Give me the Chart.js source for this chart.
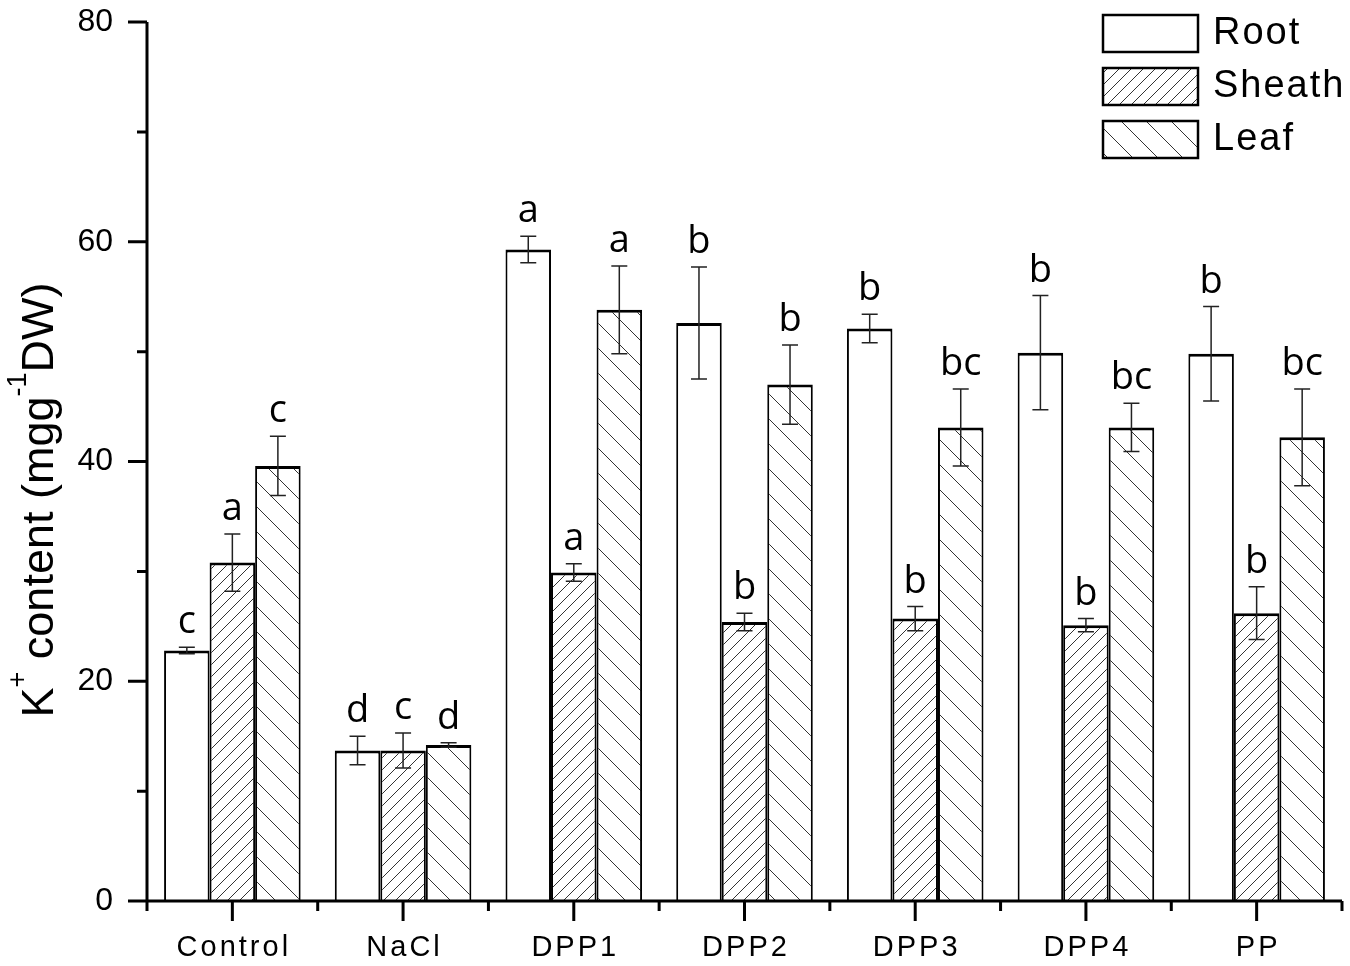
<!DOCTYPE html>
<html>
<head>
<meta charset="utf-8">
<script src="https://cdn.jsdelivr.net/npm/chart.js@4/dist/chart.umd.min.js"></script>
<style>
  body { margin: 0; background: #fff; }
  canvas { display: block; }
</style>
</head>
<body>
<canvas id="canvas" width="1350" height="966"></canvas>
<script>
const categories = ["Control", "NaCl", "DPP1", "DPP2", "DPP3", "DPP4", "PP"];
const yTickValues = [0, 20, 40, 60, 80];
const yMinorValues = [10, 30, 50, 70];

const rootValues = [22.8, 13.7, 59.3, 52.6, 52.1, 49.9, 49.8];
const rootErrors = [0.3, 1.3, 1.2, 5.1, 1.3, 5.2, 4.3];
const rootLetters = ["c", "d", "a", "b", "b", "b", "b"];

const sheathValues = [30.8, 13.7, 29.9, 25.4, 25.7, 25.1, 26.2];
const sheathErrors = [2.6, 1.6, 0.8, 0.8, 1.1, 0.6, 2.4];
const sheathLetters = ["a", "c", "a", "b", "b", "b", "b"];

const leafValues = [39.6, 14.2, 53.8, 47.0, 43.1, 43.1, 42.2];
const leafErrors = [2.7, 0.2, 4.0, 3.6, 3.5, 2.2, 4.4];
const leafLetters = ["c", "d", "a", "b", "bc", "bc", "bc"];

const ctx = document.getElementById("canvas").getContext("2d");

// diagonal hatch tiles
function hatch(size, forward) {
  const c = document.createElement("canvas");
  c.width = size;
  c.height = size;
  const g = c.getContext("2d");
  g.fillStyle = "#fff";
  g.fillRect(0, 0, size, size);
  g.strokeStyle = "#333";
  g.lineWidth = 1;
  g.beginPath();
  if (forward) {
    g.moveTo(-2, size + 2); g.lineTo(size + 2, -2);
    g.moveTo(-2, 2); g.lineTo(2, -2);
    g.moveTo(size - 2, size + 2); g.lineTo(size + 2, size - 2);
  } else {
    g.moveTo(-2, -2); g.lineTo(size + 2, size + 2);
    g.moveTo(size - 2, -2); g.lineTo(size + 2, 2);
    g.moveTo(-2, size - 2); g.lineTo(2, size + 2);
  }
  g.stroke();
  return ctx.createPattern(c, "repeat");
}

const sheathPattern = hatch(12, true);
const leafPattern = hatch(25, false);

const border = { top: 3, left: 2, right: 2, bottom: 0 };

const decorations = {
  id: "decorations",
  afterDatasetsDraw(chart) {
    const { ctx, scales: { y } } = chart;
    ctx.save();
    chart.data.datasets.forEach((ds, di) => {
      const meta = chart.getDatasetMeta(di);
      meta.data.forEach((bar, i) => {
        const v = ds.data[i];
        const e = ds.errors[i];
        const top = y.getPixelForValue(v + e);
        const bot = y.getPixelForValue(v - e);
        ctx.strokeStyle = "#222";
        ctx.lineWidth = 1.5;
        ctx.beginPath();
        ctx.moveTo(bar.x, top); ctx.lineTo(bar.x, bot);
        ctx.moveTo(bar.x - 8, top); ctx.lineTo(bar.x + 8, top);
        ctx.moveTo(bar.x - 8, bot); ctx.lineTo(bar.x + 8, bot);
        ctx.stroke();
        ctx.fillStyle = "#000";
        ctx.font = "38px 'Open Sans', 'Noto Sans', sans-serif";
        ctx.textAlign = "center";
        ctx.textBaseline = "alphabetic";
        ctx.fillText(ds.letters[i], bar.x, top - 14);
      });
    });
    ctx.restore();
  },
  afterDraw(chart) {
    const { ctx, chartArea: a, scales: { x, y } } = chart;
    ctx.save();
    ctx.strokeStyle = "#000";
    ctx.lineWidth = 3;
    ctx.beginPath();
    // axes
    ctx.moveTo(a.left, a.top); ctx.lineTo(a.left, a.bottom + 1.5);
    ctx.moveTo(a.left - 1.5, a.bottom); ctx.lineTo(a.right, a.bottom);
    // y ticks
    yTickValues.forEach(v => {
      const py = y.getPixelForValue(v);
      ctx.moveTo(a.left - 19, py); ctx.lineTo(a.left, py);
    });
    yMinorValues.forEach(v => {
      const py = y.getPixelForValue(v);
      ctx.moveTo(a.left - 10, py); ctx.lineTo(a.left, py);
    });
    // x ticks
    const n = categories.length;
    for (let i = 0; i < n; i++) {
      const px = x.getPixelForTick(i);
      ctx.moveTo(px, a.bottom); ctx.lineTo(px, a.bottom + 20);
    }
    for (let i = 0; i <= n; i++) {
      let px;
      if (i === 0) px = a.left;
      else if (i === n) px = a.right;
      else px = (x.getPixelForTick(i - 1) + x.getPixelForTick(i)) / 2;
      ctx.moveTo(px, a.bottom); ctx.lineTo(px, a.bottom + 10);
    }
    ctx.stroke();

    // x labels
    ctx.fillStyle = "#000";
    ctx.font = "29px 'Liberation Sans'";
    ctx.letterSpacing = "3px";
    ctx.textAlign = "left";
    ctx.textBaseline = "alphabetic";
    categories.forEach((c, i) => {
      const w = ctx.measureText(c).width - 3;
      ctx.fillText(c, x.getPixelForTick(i) - w / 2, a.bottom + 55);
    });

    // legend
    ctx.font = "38px 'Liberation Sans'";
    ctx.letterSpacing = "2px";
    ctx.textBaseline = "middle";
    chart.data.datasets.forEach((ds, i) => {
      const bx = 1103, by = 15 + i * 53;
      ctx.fillStyle = ds.backgroundColor;
      ctx.fillRect(bx, by, 95, 37);
      ctx.lineWidth = 2.5;
      ctx.strokeStyle = "#000";
      ctx.strokeRect(bx, by, 95, 37);
      ctx.fillStyle = "#000";
      ctx.fillText(ds.label, 1213, by + 19);
    });

    // y title with superscripts
    ctx.letterSpacing = "0px";
    const parts = [
      ["K", 45, 0], ["+", 27, -27], [" content (mgg", 45, 0], ["-1", 27, -27], ["DW)", 45, 0]
    ];
    let total = 0;
    parts.forEach(p => {
      ctx.font = p[1] + "px 'Liberation Sans'";
      total += ctx.measureText(p[0]).width;
    });
    ctx.translate(53, 500);
    ctx.rotate(-Math.PI / 2);
    ctx.textBaseline = "alphabetic";
    let cx = -total / 2;
    parts.forEach(p => {
      ctx.font = p[1] + "px 'Liberation Sans'";
      ctx.fillText(p[0], cx, p[2]);
      cx += ctx.measureText(p[0]).width;
    });
    ctx.restore();
  }
};

new Chart(ctx, {
  type: "bar",
  data: {
    labels: categories,
    datasets: [
      {
        label: "Root",
        data: rootValues,
        errors: rootErrors,
        letters: rootLetters,
        backgroundColor: "#fff",
        borderColor: "#000",
        borderWidth: border,
        borderSkipped: false,
      },
      {
        label: "Sheath",
        data: sheathValues,
        errors: sheathErrors,
        letters: sheathLetters,
        backgroundColor: sheathPattern,
        borderColor: "#000",
        borderWidth: border,
        borderSkipped: false,
      },
      {
        label: "Leaf",
        data: leafValues,
        errors: leafErrors,
        letters: leafLetters,
        backgroundColor: leafPattern,
        borderColor: "#000",
        borderWidth: border,
        borderSkipped: false,
      },
    ],
  },
  options: {
    responsive: false,
    animation: false,
    devicePixelRatio: 1,
    layout: { padding: { top: 22, right: 8, left: 0, bottom: 0 } },
    datasets: { bar: { categoryPercentage: 0.8, barPercentage: 1.0 } },
    scales: {
      x: {
        grid: { display: false, drawTicks: false },
        border: { display: false },
        ticks: { display: false },
        afterFit: s => { s.height = 65; s.paddingLeft = 0; s.paddingRight = 0; },
      },
      y: {
        min: 0,
        max: 80,
        afterBuildTicks: s => { s.ticks = yTickValues.map(v => ({ value: v })); },
        grid: { display: false, drawTicks: false },
        border: { display: false },
        ticks: {
          padding: 34,
          color: "#000",
          font: { family: "Liberation Sans", size: 32 },
        },
        afterFit: s => { s.width = 147; s.paddingTop = 0; s.paddingBottom = 0; },
      },
    },
    plugins: {
      legend: { display: false },
      tooltip: { enabled: false },
    },
  },
  plugins: [decorations],
});
</script>
</body>
</html>
